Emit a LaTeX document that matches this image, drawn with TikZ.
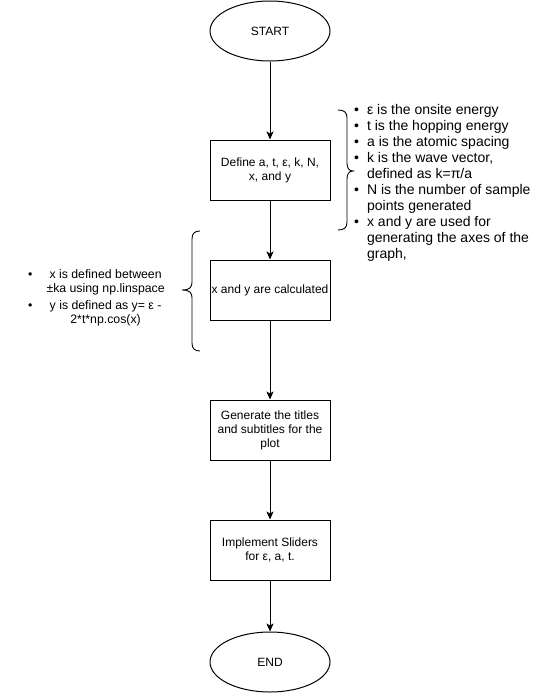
\documentclass[tikz,border=0pt]{standalone}
\usepackage{fontspec}
\setmainfont{Liberation Sans}
\usetikzlibrary{shapes.geometric,arrows.meta}
\begin{document}
\begin{tikzpicture}[x=1pt,y=-1pt,
  box/.style={draw, line width=1pt, minimum width=120pt, minimum height=60pt, align=center, inner sep=0pt, font=\fontsize{12}{14}\selectfont},
  term/.style={draw, ellipse, line width=1pt, minimum width=120pt, minimum height=60pt, inner sep=0pt, font=\fontsize{12}{14}\selectfont},
  flow/.style={line width=1pt, -{Stealth[length=8pt,width=7pt,inset=2pt]}},
  bracestyle/.style={line width=0.9pt},
  listtext/.style={inner sep=0pt}]
\useasboundingbox[fill=white] (0,0) rectangle (536,696);

\node[term] (start) at (270,31) {START};
\node[box] (define) at (270,170) {Define a, t, ε, k, N,\\ x, and y};
\node[box] (calc) at (270,290) {x and y are calculated};
\node[box] (titles) at (270,430) {Generate the titles\\ and subtitles for the\\ plot};
\node[box] (sliders) at (270,550) {Implement Sliders\\ for ε, a, t.};
\node[term] (end) at (270,662) {END};

\draw[flow] (start) -- (define);
\draw[flow] (define) -- (calc);
\draw[flow] (calc) -- (titles);
\draw[flow] (titles) -- (sliders);
\draw[flow] (sliders) -- (end);

% right brace
\draw[bracestyle] (338,110) .. controls (344,110) and (347,112) .. (347,118) -- (347,163)
  .. controls (347,168) and (349,171) .. (353,171)
  .. controls (349,171) and (347,174) .. (347,179) -- (347,222)
  .. controls (347,228) and (344,230) .. (338,230);

% left brace
\draw[bracestyle] (200,231) .. controls (195,231) and (192,233) .. (192,239) -- (192,282)
  .. controls (192,287) and (190,290) .. (182,290)
  .. controls (190,290) and (192,293) .. (192,298) -- (192,343)
  .. controls (192,349) and (195,351) .. (200,351);

\node[listtext, anchor=base west, font=\fontsize{14}{16}\selectfont] (facts) at (354,114.8) {\begin{tabular}[t]{@{}l@{\hspace{8pt}}l@{}}
• & ε is the onsite energy\\
• & t is the hopping energy\\
• & a is the atomic spacing\\
• & k is the wave vector,\\
  & defined as k=π/a\\
• & N is the number of sample\\
  & points generated\\
• & x and y are used for\\
  & generating the axes of the\\
  & graph,
\end{tabular}};

\node[listtext, anchor=base west, font=\fontsize{12.3}{14.5}\selectfont] (xydef) at (28,278.3) {\begin{tabular}[t]{@{}l@{\hspace{14pt}}c@{}}
• & x is defined between\\
  & ±ka using np.linspace\\[2pt]
• & y is defined as y= ε -\\
  & 2*t*np.cos(x)
\end{tabular}};
\end{tikzpicture}
\end{document}
